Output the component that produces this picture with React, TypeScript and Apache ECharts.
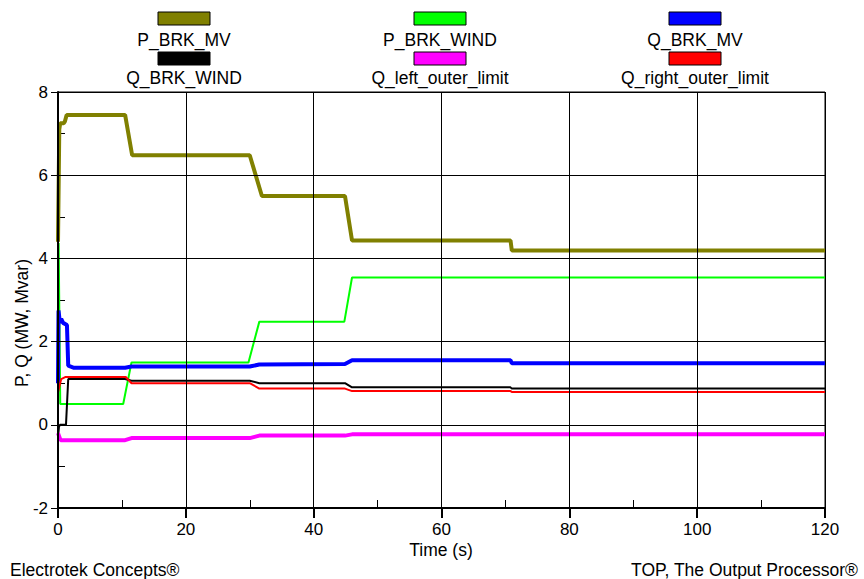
import React, { useEffect, useRef } from "react";
import * as echarts from "echarts";

const seriesNames = [
  "P_BRK_MV",
  "P_BRK_WIND",
  "Q_BRK_MV",
  "Q_BRK_WIND",
  "Q_left_outer_limit",
  "Q_right_outer_limit",
];
const seriesColors = ["#808000", "#00ff00", "#0000ff", "#000000", "#ff00ff", "#ff0000"];
const seriesWidths = [4, 2, 4, 2, 4, 2];

// Time (s) / value pairs per series
const pBrkMvTime = [0, 0.2, 0.35, 0.9, 1.1, 1.35, 10.5, 11.6, 30.0, 31.9, 44.9, 46.0, 70.8, 71.0, 120];
const pBrkMvValue = [4.4, 7.1, 7.25, 7.25, 7.3, 7.45, 7.45, 6.48, 6.48, 5.5, 5.5, 4.43, 4.43, 4.19, 4.19];

const pBrkWindTime = [0.1, 0.35, 10.2, 11.5, 29.8, 31.5, 44.8, 46.0, 120];
const pBrkWindValue = [4.37, 0.5, 0.5, 1.5, 1.5, 2.48, 2.48, 3.54, 3.54];

const qBrkMvTime = [0, 0.08, 0.3, 0.5, 0.8, 1.4, 1.6, 2.5, 10.5, 11.5, 30.0, 31.5, 44.9, 46.0, 70.8, 71.0, 120];
const qBrkMvValue = [1.0, 2.75, 2.45, 2.55, 2.45, 2.4, 1.42, 1.37, 1.37, 1.4, 1.4, 1.45, 1.46, 1.55, 1.55, 1.48, 1.48];

const qBrkWindTime = [0, 0.15, 0.3, 1.25, 1.6, 10.5, 11.5, 30.0, 31.5, 44.9, 46.0, 70.8, 71.0, 120];
const qBrkWindValue = [-0.3, -0.05, 0.0, 0.0, 1.1, 1.1, 1.06, 1.06, 1.0, 1.0, 0.9, 0.9, 0.87, 0.87];

const qLeftTime = [0, 0.4, 10.5, 11.5, 30.0, 31.5, 44.9, 46.0, 120];
const qLeftValue = [-0.2, -0.37, -0.37, -0.32, -0.32, -0.26, -0.26, -0.23, -0.23];

const qRightTime = [0, 0.5, 1.2, 10.6, 11.5, 30.0, 31.5, 44.9, 46.0, 70.8, 71.0, 120];
const qRightValue = [0.78, 1.1, 1.15, 1.15, 1.0, 1.0, 0.87, 0.87, 0.81, 0.81, 0.79, 0.79];

const seriesTimes = [pBrkMvTime, pBrkWindTime, qBrkMvTime, qBrkWindTime, qLeftTime, qRightTime];
const seriesValues = [pBrkMvValue, pBrkWindValue, qBrkMvValue, qBrkWindValue, qLeftValue, qRightValue];

const xMin = 0;
const xMax = 120;
const xMajor = 20;
const xMinor = 10;
const yMin = -2;
const yMax = 8;
const yMajor = 2;
const yMinor = 1;

const xTitle = "Time (s)";
const yTitle = "P, Q (MW, Mvar)";
const footerLeft = "Electrotek Concepts®";
const footerRight = "TOP, The Output Processor®";

const FONT = "'Liberation Sans', Arial, sans-serif";

export default function App() {
  const ref = useRef<HTMLDivElement>(null);

  useEffect(() => {
    if (!ref.current) return;
    const chart = echarts.init(ref.current, undefined, { renderer: "svg" });

    const series = seriesNames.map((name, i) => ({
      name,
      type: "line",
      xAxisIndex: 0,
      yAxisIndex: 0,
      showSymbol: false,
      symbol: "none",
      data: seriesTimes[i].map((t, j) => [t, seriesValues[i][j]]),
      lineStyle: { color: seriesColors[i], width: seriesWidths[i] },
      itemStyle: { color: seriesColors[i] },
      z: 3 + i,
    }));

    const legendCenters = [184, 440, 695];
    const swatchTop = [12, 52];
    const labelMid = [40, 78];
    const legendGraphics: any[] = [];
    seriesNames.forEach((name, i) => {
      const col = i % 3;
      const row = Math.floor(i / 3);
      legendGraphics.push({
        type: "rect",
        shape: { x: legendCenters[col] - 26, y: swatchTop[row], width: 52, height: 13 },
        style: { fill: seriesColors[i], stroke: "#000", lineWidth: 1 },
      });
      legendGraphics.push({
        type: "text",
        x: legendCenters[col],
        y: labelMid[row],
        style: {
          text: name,
          fill: "#000",
          font: `17.5px ${FONT}`,
          align: "center",
          verticalAlign: "middle",
        },
      });
    });

    const option: any = {
      animation: false,
      backgroundColor: "#fff",
      grid: {
        left: 58,
        right: 39,
        top: 92,
        bottom: 71,
        show: true,
        borderColor: "#000",
        borderWidth: 1,
        backgroundColor: "transparent",
        containLabel: false,
      },
      xAxis: [
        {
          type: "value",
          min: xMin,
          max: xMax,
          interval: xMajor,
          position: "bottom",
          axisLine: { show: true, onZero: false, lineStyle: { color: "#000", width: 2 } },
          axisTick: { show: true, inside: false, length: 10, lineStyle: { color: "#000", width: 2 } },
          axisLabel: { color: "#000", fontFamily: FONT, fontSize: 17, margin: 13 },
          splitLine: { show: true, lineStyle: { color: "#000", width: 1 } },
          z: 10,
        },
        {
          type: "value",
          min: xMin,
          max: xMax,
          interval: xMinor,
          position: "bottom",
          axisLine: { show: false, onZero: false },
          axisTick: { show: true, inside: true, length: 8, lineStyle: { color: "#000", width: 1 } },
          axisLabel: { show: false },
          splitLine: { show: false },
        },
      ],
      yAxis: [
        {
          type: "value",
          min: yMin,
          max: yMax,
          interval: yMajor,
          position: "left",
          axisLine: { show: true, onZero: false, lineStyle: { color: "#000", width: 2 } },
          axisTick: { show: true, inside: false, length: 7, lineStyle: { color: "#000", width: 1 } },
          axisLabel: { color: "#000", fontFamily: FONT, fontSize: 17, margin: 10 },
          splitLine: { show: true, lineStyle: { color: "#000", width: 1 } },
          z: 10,
        },
        {
          type: "value",
          min: yMin,
          max: yMax,
          interval: yMinor,
          position: "left",
          axisLine: { show: false, onZero: false },
          axisTick: { show: true, inside: true, length: 7, lineStyle: { color: "#000", width: 1 } },
          axisLabel: { show: false },
          splitLine: { show: false },
        },
      ],
      series,
      graphic: [
        ...legendGraphics,
        {
          type: "text",
          x: 441,
          y: 550,
          style: { text: xTitle, fill: "#000", font: `17.5px ${FONT}`, align: "center", verticalAlign: "middle" },
        },
        {
          type: "text",
          x: 22,
          y: 323,
          rotation: Math.PI / 2,
          style: { text: yTitle, fill: "#000", font: `17.5px ${FONT}`, align: "center", verticalAlign: "middle" },
        },
        {
          type: "text",
          x: 10,
          y: 570,
          style: { text: footerLeft, fill: "#000", font: `17.5px ${FONT}`, align: "left", verticalAlign: "middle" },
        },
        {
          type: "text",
          x: 858,
          y: 570,
          style: { text: footerRight, fill: "#000", font: `17.5px ${FONT}`, align: "right", verticalAlign: "middle" },
        },
      ],
    };

    chart.setOption(option);
    return () => chart.dispose();
  }, []);

  return (
    <div
      ref={ref}
      style={{ position: "absolute", left: 0, top: 0, width: 864, height: 579, background: "#fff" }}
    />
  );
}
